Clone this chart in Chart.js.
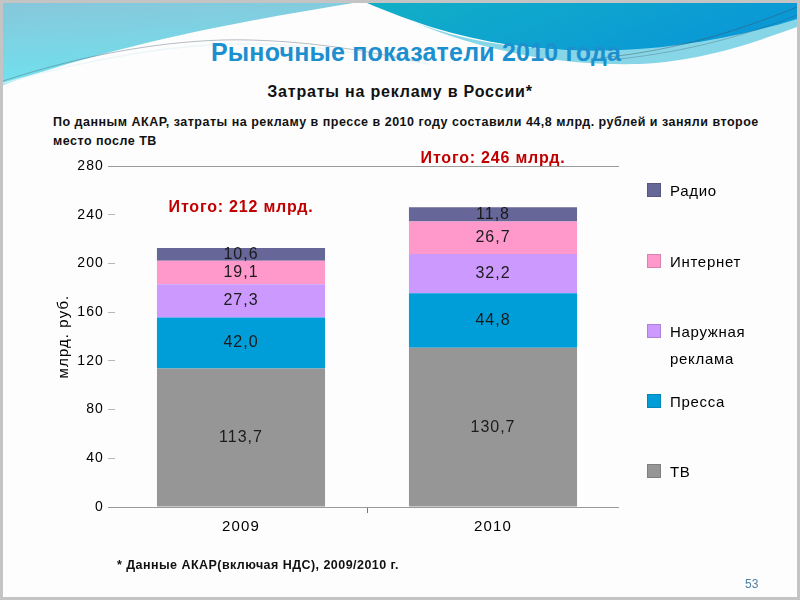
<!DOCTYPE html>
<html>
<head>
<meta charset="utf-8">
<script src="https://cdn.jsdelivr.net/npm/chart.js@4.4.1/dist/chart.umd.min.js"></script>
<style>
  html, body { margin: 0; padding: 0; }
  body { width: 800px; height: 600px; background: #c4c4c4; font-family: "Liberation Sans", Arial, sans-serif; overflow: hidden; }
  #slide { position: absolute; left: 3px; top: 3px; width: 794px; height: 594px; background: #fdfdfd; overflow: hidden; }
  #bg { position: absolute; left: -3px; top: -3px; }
  #chartWrap { position: absolute; left: -3px; top: -3px; width: 800px; height: 600px; }
  .txt { position: absolute; color: #111; font-weight: bold; white-space: nowrap; }
  #title { left: 0; width: 826px; text-align: center; top: 35px; font-size: 25px; color: #1c8fcf; letter-spacing: 0.2px; }
  #subtitle { left: 0; width: 794px; text-align: center; top: 80px; font-size: 16px; letter-spacing: 0.8px; }
  #para { left: 50px; top: 110px; font-size: 12.5px; line-height: 19px; letter-spacing: 0.5px; }
  #note { left: 114px; top: 555px; font-size: 12.5px; letter-spacing: 0.45px; }
  #page { left: 742px; top: 574px; font-size: 12px; font-weight: normal; color: #4f7fa3; }
  #legend { position: absolute; left: 0; top: 0; }
  .lg { position: absolute; left: 644px; font-size: 15px; letter-spacing: 0.7px; color: #000; line-height: 27px; }
  .lg i { position: absolute; left: 0; top: 6px; width: 14px; height: 14px; box-sizing: border-box; border: 1px solid rgba(0,0,0,0.15); }
  .lg span { display: block; margin-left: 23px; }
</style>
</head>
<body>
<div id="slide">
  <svg id="bg" width="800" height="600" viewBox="0 0 800 600">
    <defs>
      <linearGradient id="gl" x1="0" y1="0" x2="0.2" y2="1">
        <stop offset="0" stop-color="#88c6da"/>
        <stop offset="1" stop-color="#6fe2ee"/>
      </linearGradient>
      <linearGradient id="gt" x1="0" y1="0" x2="1" y2="0.3">
        <stop offset="0" stop-color="#12b0c6"/>
        <stop offset="1" stop-color="#0a98d6"/>
      </linearGradient>
    </defs>
    <path d="M0,0 L372,0 C260,18 130,40 0,86 Z" fill="url(#gl)"/>
    <path d="M395,14 C470,48 550,66 640,64 C710,60 760,40 800,26 L800,16 C720,40 640,52 560,50 C480,46 430,30 395,14 Z" fill="#86d6e8"/>
    <path d="M360,0 L800,0 L800,18 C730,40 650,54 565,50 C480,46 420,26 360,0 Z" fill="url(#gt)"/>
    <path d="M0,82 C90,52 180,38 250,40 C320,42 370,52 420,62" fill="none" stroke="#506070" stroke-width="0.7" opacity="0.6"/>
    <path d="M0,84 C100,56 190,42 260,44 C330,46 380,58 430,64" fill="none" stroke="#e8f4f8" stroke-width="1.5" opacity="0.8"/>
    <path d="M600,58 C680,50 740,30 800,6" fill="none" stroke="#404a55" stroke-width="0.7" opacity="0.6"/>
    <path d="M610,60 C690,52 750,34 800,14" fill="none" stroke="#404a55" stroke-width="0.6" opacity="0.5"/>
  </svg>
  <div class="txt" id="title">Рыночные показатели 2010 года</div>
  <div class="txt" id="subtitle">Затраты на рекламу в России*</div>
  <div class="txt" id="para">По данным АКАР, затраты на рекламу в прессе в 2010 году составили 44,8 млрд. рублей и заняли второе<br>место после ТВ</div>
  <div id="chartWrap"><canvas id="myChart" width="800" height="600"></canvas></div>
  <div id="legend"></div>
  <div class="txt" id="note">* Данные АКАР(включая НДС), 2009/2010 г.</div>
  <div class="txt" id="page">53</div>
</div>
<script>
// Data (billion rubles)
var years = ['2009', '2010'];
var seriesNames = ['ТВ', 'Пресса', 'Наружная реклама', 'Интернет', 'Радио'];
var tvValues = [113.7, 130.7];
var pressValues = [42.0, 44.8];
var outdoorValues = [27.3, 32.2];
var internetValues = [19.1, 26.7];
var radioValues = [10.6, 11.8];
var totalLabels = ['Итого: 212 млрд.', 'Итого: 246 млрд.'];
var yTicks = [0, 40, 80, 120, 160, 200, 240, 280];

var seriesColors = ['#969696', '#009ed8', '#cc99ff', '#ff99cc', '#666699'];
var seriesValues = [tvValues, pressValues, outdoorValues, internetValues, radioValues];

// Legend rows, top to bottom (names split where the slide wraps them)
var legendTops = { 'Радио': 174, 'Интернет': 245, 'Наружная реклама': 315, 'Пресса': 385, 'ТВ': 455 };

function buildLegend() {
    let html = '';
    for (let i = seriesNames.length - 1; i >= 0; i--) {
        let name = seriesNames[i];
        let text = name.replace(' ', '<br>');
        html += '<div class="lg" style="top:' + legendTops[name] + 'px"><i style="background:' +
            seriesColors[i] + '"></i><span>' + text + '</span></div>';
    }
    document.getElementById('legend').innerHTML = html;
}

// The slide's text is a little spaced out, so widen canvas text too
var spacingPlugin = {
    id: 'spacing',
    beforeDraw(chart) {
        chart.ctx.letterSpacing = '1.1px';
    }
};

// Values inside segments + totals above the stacks
var labelsPlugin = {
    id: 'segLabels',
    afterDatasetsDraw(chart) {
        let ctx = chart.ctx;
        ctx.save();
        ctx.letterSpacing = '1px';
        ctx.textAlign = 'center';
        ctx.textBaseline = 'middle';
        ctx.font = '16px "Liberation Sans", Arial, sans-serif';
        ctx.fillStyle = '#1b1b1b';
        chart.data.datasets.forEach(function (ds, di) {
            let meta = chart.getDatasetMeta(di);
            meta.data.forEach(function (bar, i) {
                let v = ds.data[i].toFixed(1).replace('.', ',');
                ctx.fillText(v, bar.x, (bar.y + bar.base) / 2);
            });
        });
        let topMeta = chart.getDatasetMeta(chart.data.datasets.length - 1);
        let lift = [40, 49];
        ctx.letterSpacing = '0.8px';
        ctx.font = 'bold 16px "Liberation Sans", Arial, sans-serif';
        ctx.fillStyle = '#c00000';
        topMeta.data.forEach(function (bar, i) {
            ctx.fillText(totalLabels[i], bar.x, bar.y - lift[i]);
        });
        ctx.restore();
    }
};

function createChart(canvasId) {
    let datasets = [];
    for (let i = 0; i < seriesNames.length; i++) {
        datasets.push({
            label: seriesNames[i],
            data: seriesValues[i],
            backgroundColor: seriesColors[i],
            borderWidth: 0,
            barPercentage: 0.667,
            categoryPercentage: 1.0
        });
    }
    let ctx = document.getElementById(canvasId).getContext('2d');
    return new Chart(ctx, {
        type: 'bar',
        data: { labels: years, datasets: datasets },
        options: {
            animation: false,
            responsive: false,
            layout: { padding: { left: 55, top: 166, right: 181, bottom: 53 } },
            plugins: { legend: { display: false }, tooltip: { enabled: false } },
            scales: {
                x: {
                    stacked: true,
                    afterFit: function (scale) { scale.height = 40; },
                    border: { display: false },
                    grid: {
                        offset: true,
                        drawOnChartArea: false,
                        tickLength: 6,
                        tickColor: function (c) { return c.index === 1 ? '#777' : 'rgba(0,0,0,0)'; }
                    },
                    ticks: {
                        padding: 5,
                        color: '#000',
                        font: { size: 15, family: '"Liberation Sans", Arial, sans-serif' }
                    }
                },
                y: {
                    stacked: true,
                    min: 0,
                    max: 280,
                    afterFit: function (scale) { scale.width = 60; },
                    afterBuildTicks: function (scale) {
                        scale.ticks = yTicks.map(function (v) { return { value: v }; });
                    },
                    border: { display: false },
                    grid: {
                        tickLength: 7,
                        color: function (c) {
                            return (c.tick && (c.tick.value === 0 || c.tick.value === 280)) ? '#9a9a9a' : 'rgba(0,0,0,0)';
                        },
                        tickColor: function (c) {
                            return (c.tick && (c.tick.value === 0 || c.tick.value === 280)) ? '#9a9a9a' : '#b8b8b8';
                        }
                    },
                    ticks: {
                        padding: 4,
                        color: '#000',
                        font: { size: 14, family: '"Liberation Sans", Arial, sans-serif' }
                    },
                    title: {
                        display: true,
                        text: 'млрд. руб.',
                        color: '#000',
                        padding: 0,
                        font: { size: 15, family: '"Liberation Sans", Arial, sans-serif' }
                    }
                }
            }
        },
        plugins: [spacingPlugin, labelsPlugin]
    });
}

buildLegend();
var chart = createChart('myChart');
</script>
</body>
</html>
